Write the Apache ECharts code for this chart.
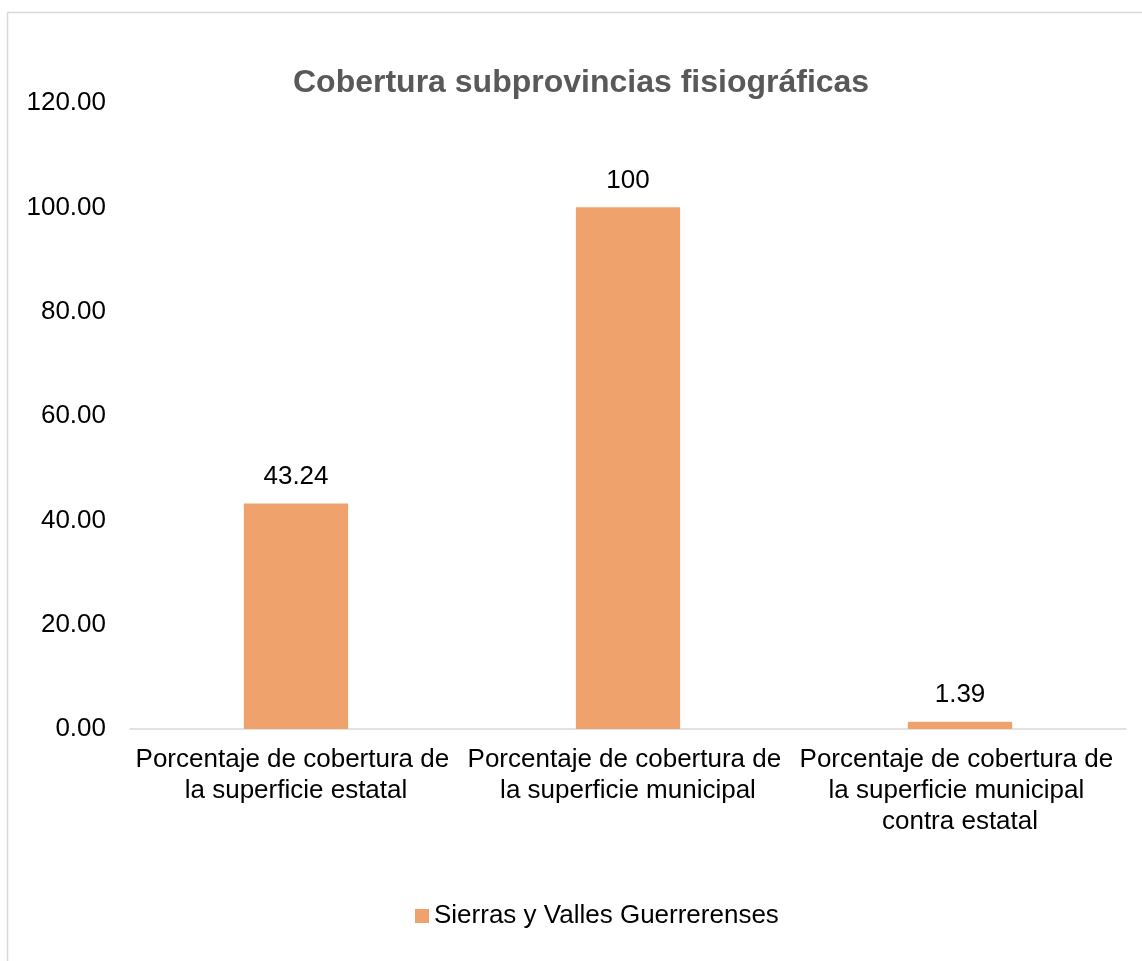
<!DOCTYPE html>
<html>
<head>
<meta charset="utf-8">
<script src="https://cdn.jsdelivr.net/npm/echarts@6/dist/echarts.min.js"></script>
<style>
html,body{margin:0;padding:0;background:#fff;}
#chart{width:1142px;height:961px;}
</style>
</head>
<body>
<div id="chart"></div>
<script>
const titleText = 'Cobertura subprovincias fisiográficas';
const categories = [
  'Porcentaje de cobertura de la superficie estatal',
  'Porcentaje de cobertura de la superficie municipal',
  'Porcentaje de cobertura de la superficie municipal contra estatal'
];
const seriesName = 'Sierras y Valles Guerrerenses';
const values = [43.24, 100, 1.39];
const yMin = 0, yMax = 120, yStep = 20;

const FONT = '"Liberation Sans", Arial, sans-serif';
const chart = echarts.init(document.getElementById('chart'));
chart.setOption({
  backgroundColor: '#ffffff',
  animation: false,
  graphic: [{
    type: 'rect',
    shape: {x: 7.5, y: 12.5, width: 1140, height: 960},
    style: {fill: 'none', stroke: '#d9d9d9', lineWidth: 1.5},
    silent: true,
    z: -1
  }],
  title: {
    text: titleText,
    left: 293,
    top: 67,
    padding: 0,
    textStyle: {fontFamily: FONT, fontSize: 32, fontWeight: 'bold', color: '#595959', lineHeight: 32}
  },
  legend: {
    data: [seriesName],
    left: 415,
    top: 903,
    padding: 0,
    icon: 'rect',
    itemWidth: 14,
    itemHeight: 14,
    textStyle: {fontFamily: FONT, fontSize: 26, color: '#000', lineHeight: 26}
  },
  grid: {left: 130, right: 16, top: 103, bottom: 232, containLabel: false},
  xAxis: {
    type: 'category',
    data: categories,
    axisLine: {show: true, lineStyle: {color: '#d9d9d9', width: 1.5}},
    axisTick: {show: false},
    axisLabel: {
      interval: 0,
      margin: 15,
      fontFamily: FONT,
      fontSize: 26,
      color: '#000',
      lineHeight: 31,
      width: 330,
      overflow: 'break',
      align: 'center'
    }
  },
  yAxis: {
    type: 'value',
    min: yMin,
    max: yMax,
    interval: yStep,
    axisLine: {show: false},
    axisTick: {show: false},
    splitLine: {show: false},
    axisLabel: {
      margin: 24,
      fontFamily: FONT,
      fontSize: 26,
      color: '#000',
      formatter: v => v.toFixed(2)
    }
  },
  series: [{
    name: seriesName,
    type: 'bar',
    data: values,
    barWidth: '31.4%',
    itemStyle: {color: '#F0A26D'},
    label: {
      show: true,
      position: 'top',
      distance: 14,
      fontFamily: FONT,
      fontSize: 26,
      color: '#000'
    }
  }]
});
</script>
</body>
</html>
